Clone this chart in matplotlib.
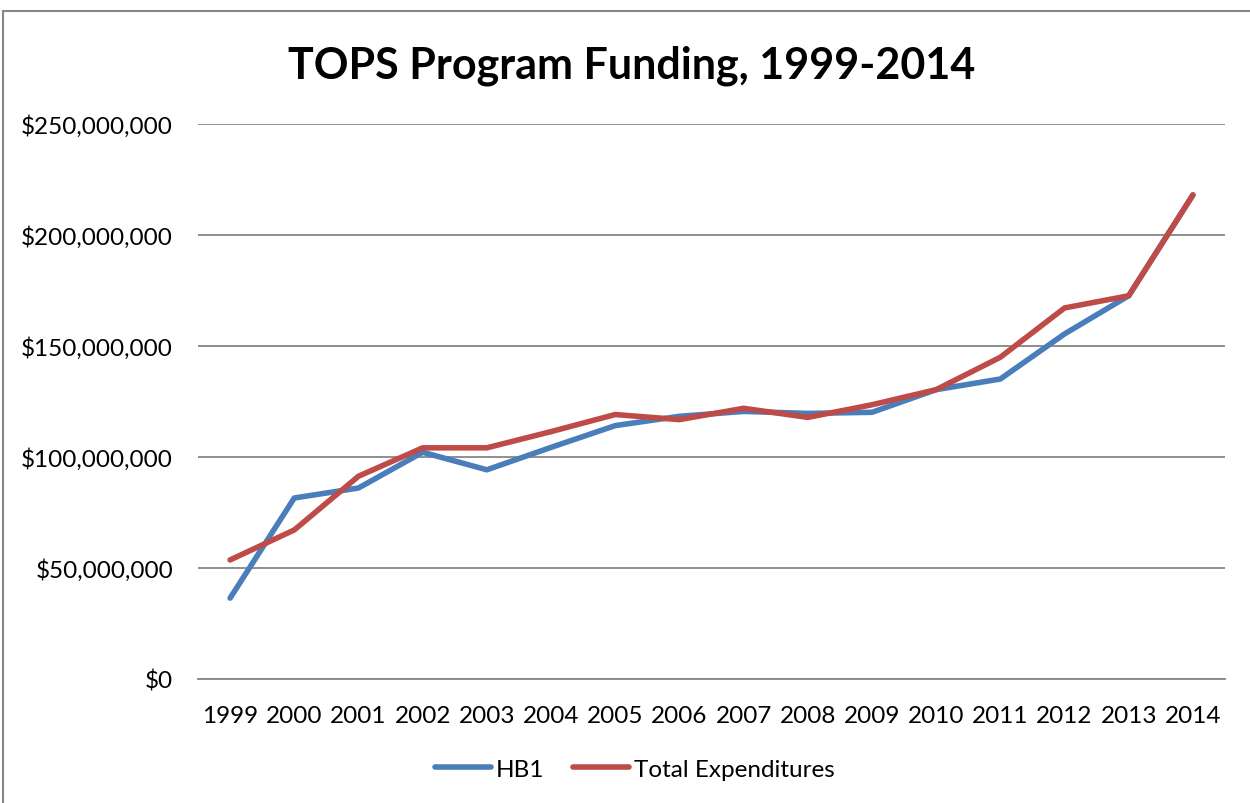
import matplotlib.pyplot as plt
from matplotlib.patches import Rectangle
from matplotlib.ticker import FuncFormatter

# Data (dollars)
years = [str(y) for y in range(1999, 2015)]
hb1 = [36.3e6, 81.4e6, 85.9e6, 102.0e6, 94.1e6, 104.2e6, 114.0e6, 118.2e6,
       120.4e6, 119.5e6, 120.0e6, 130.2e6, 135.0e6, 155.3e6, 172.5e6, 217.9e6]
total = [53.5e6, 67.0e6, 91.2e6, 104.0e6, 104.0e6, 111.3e6, 119.0e6, 116.7e6,
         121.8e6, 117.7e6, 123.4e6, 130.2e6, 144.8e6, 167.0e6, 172.5e6, 217.9e6]

plt.rcParams['font.family'] = ['Lato', 'DejaVu Sans']

fig = plt.figure(figsize=(12.5, 8.04), dpi=100)
ax = fig.add_axes([0.1584, 0.1546, 0.98 - 0.1584, 0.8449 - 0.1546])

# chart border
fig.patches.append(Rectangle((3 / 1250, -0.1), 1.2, 0.985 + 0.1,
                             transform=fig.transFigure, fill=False,
                             edgecolor='#868686', linewidth=1.5))

x = range(len(years))
ax.plot(x, hb1, color='#4A7EBB', linewidth=4.0, label='HB1',
        solid_capstyle='round', solid_joinstyle='round')
ax.plot(x, total, color='#BE4B48', linewidth=4.0, label='Total Expenditures',
        solid_capstyle='round', solid_joinstyle='round')

ax.set_xlim(-0.5, len(years) - 0.5)
ax.set_ylim(0, 250e6)
ax.set_yticks(range(0, 250000001, 50000000))
ax.yaxis.set_major_formatter(FuncFormatter(lambda v, p: '${:,.0f}'.format(v)))
ax.set_xticks(list(x))
ax.set_xticklabels(years)
ax.tick_params(axis='both', length=0, labelsize=17.5, colors='black')
ax.tick_params(axis='y', pad=18)
ax.tick_params(axis='x', pad=19)
ax.grid(axis='y', color='#868686', linewidth=1.3)
ax.set_axisbelow(True)
for s in ['top', 'right', 'left']:
    ax.spines[s].set_visible(False)
ax.spines['bottom'].set_color('#868686')
ax.spines['bottom'].set_linewidth(1.3)

fig.text(0.505, 0.918, 'TOPS Program Funding, 1999-2014', ha='center',
         va='center', fontsize=31, fontweight='bold')

fig.legend(loc='center', bbox_to_anchor=(0.508, 0.042), ncol=2, frameon=False,
           fontsize=17.5, handlelength=2.3, handletextpad=0.2, columnspacing=1.2)

fig.savefig('out.png', dpi=100)
